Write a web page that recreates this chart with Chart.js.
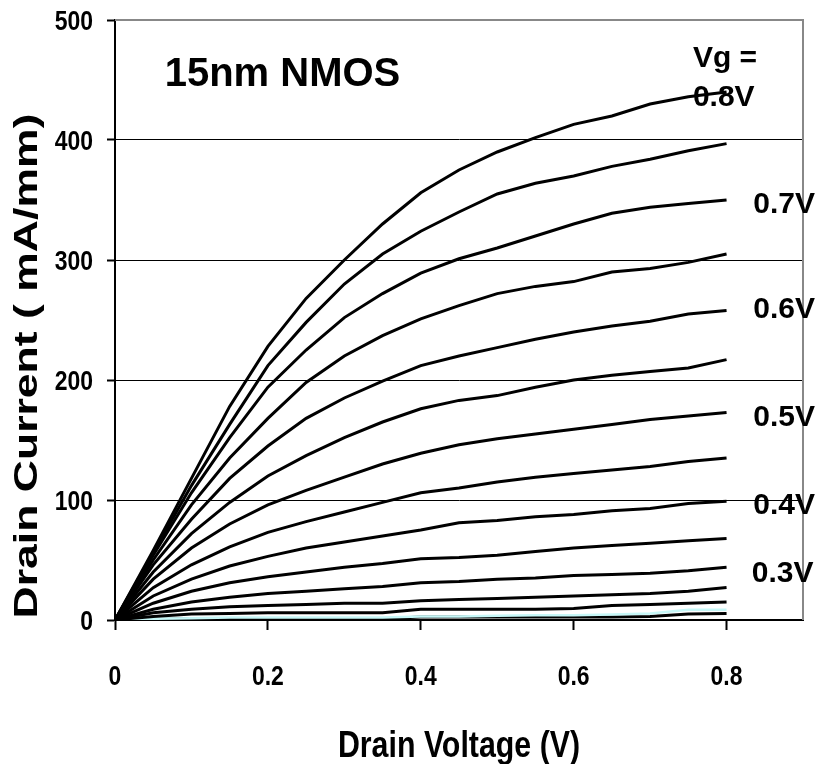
<!DOCTYPE html>
<html><head><meta charset="utf-8">
<script src="https://cdn.jsdelivr.net/npm/chart.js@4/dist/chart.umd.min.js"></script>
<style>html,body{margin:0;padding:0;background:#fff}#wrap{width:821px;height:764px}</style>
</head><body><div id="wrap"><canvas id="c" width="821" height="764"></canvas></div>
<script>
// ---- data ----
const drainVoltage = [0,0.05,0.1,0.15,0.2,0.25,0.3,0.35,0.4,0.45,0.5,0.55,0.6,0.65,0.7,0.75,0.8];
const vg080 = [0, 58, 118, 178, 228, 268, 300, 330, 356, 375, 390, 402, 413, 420, 430, 436, 440];
const vg075 = [0, 56, 112, 163, 212, 248, 280, 305, 324, 340, 355, 364, 370, 378, 384, 391, 397];
const vg070 = [0, 54, 106, 152, 194, 225, 252, 272, 289, 301, 310, 320, 330, 339, 344, 347, 350];
const vg065 = [0, 50, 96, 135, 168, 198, 220, 237, 251, 262, 272, 278, 282, 290, 293, 298, 305];
const vg060 = [0, 46, 84, 118, 145, 168, 185, 199, 212, 220, 227, 234, 240, 245, 249, 255, 258];
const vg055 = [0, 40, 72, 98, 120, 137, 152, 165, 176, 183, 187, 194, 200, 204, 207, 210, 217];
const vg050 = [0, 34, 60, 80, 96, 108, 119, 130, 139, 146, 151, 155, 159, 163, 167, 170, 173];
const vg045 = [0, 27, 46, 61, 73, 82, 90, 98, 106, 110, 115, 119, 122, 125, 128, 132, 135];
const vg040 = [0, 20, 34, 45, 53, 60, 65, 70, 75, 81, 83, 86, 88, 91, 93, 97, 99];
const vg035 = [0, 14, 24, 31, 36, 40, 44, 47, 51, 52, 54, 57, 60, 62, 64, 66, 68];
const vg030 = [0, 9, 15, 19, 22, 24, 26, 28, 31, 32, 34, 35, 37, 38, 39, 41, 44];
const vg025 = [0, 6, 9, 11, 12, 13, 14, 14, 16, 17, 18, 19, 20, 21, 22, 24, 27];
const vg020 = [0, 3, 5, 5.5, 6, 6, 6, 6, 9, 9, 9, 9, 9.5, 12, 13, 14, 15];
const vg015 = [0, 1, 1.5, 2, 2, 2, 2, 2, 3, 3, 3.5, 4, 4, 4.5, 5.5, 8.5, 8.5];
const vg010 = [0, 0.5, 1, 1, 1, 1, 1, 1, 2.5, 2.5, 2.5, 2.5, 2.5, 2.5, 3, 5, 5.5];

const seriesNames = ['Vg 0.80','Vg 0.75','Vg 0.70','Vg 0.65','Vg 0.60','Vg 0.55','Vg 0.50','Vg 0.45','Vg 0.40','Vg 0.35','Vg 0.30','Vg 0.25','Vg 0.20','Vg 0.15','Vg 0.10'];
const seriesValues = [vg080,vg075,vg070,vg065,vg060,vg055,vg050,vg045,vg040,vg035,vg030,vg025,vg020,vg015,vg010];

const xTicks = [0, 0.2, 0.4, 0.6, 0.8];
const xTickLabels = ['0', '0.2', '0.4', '0.6', '0.8'];
const yTicks = [0, 100, 200, 300, 400, 500];
const yTickLabels = ['0', '100', '200', '300', '400', '500'];

const noteTexts = ['15nm NMOS','Vg =','0.8V','0.7V','0.6V','0.5V','0.4V','0.3V'];
const noteX =     [0.065, 0.756, 0.756, 0.835, 0.835, 0.835, 0.835, 0.833];
const noteY =     [445,   460.8, 428.3, 339,   251.7, 161.7, 88.3,  31.7];

const xTitle = 'Drain Voltage (V)';
const yTitle = 'Drain Current ( mA/mm)';

// ---- styles ----
const ARIAL = '"Liberation Sans",Arial,sans-serif';
const NARROW_SCALE = 0.82; // emulates Arial Narrow Bold

const datasets = seriesValues.map((vals, i) => ({
  label: seriesNames[i],
  data: drainVoltage.map((v, k) => ({x: v, y: vals[k]})),
  borderColor: seriesNames[i] === 'Vg 0.15' ? '#c6f7f7' : '#000',
  borderWidth: seriesNames[i] === 'Vg 0.15' ? 2.5 : 3,
  pointRadius: 0,
  tension: 0,
  fill: false
}));

function narrowText(ctx, text, x, y, size, align, sx) {
  ctx.save();
  ctx.translate(x, y);
  ctx.scale(sx, 1);
  ctx.font = 'bold ' + size + 'px ' + ARIAL;
  ctx.textAlign = align;
  ctx.textBaseline = 'alphabetic';
  ctx.fillStyle = '#000';
  ctx.fillText(text, 0, 0);
  ctx.restore();
}

const overlay = {
  id: 'overlay',
  beforeDatasetsDraw(chart) {
    const {ctx, chartArea: a} = chart;
    ctx.save();
    ctx.strokeStyle = '#888';
    ctx.lineWidth = 2;
    ctx.beginPath();
    ctx.moveTo(a.left, a.top);
    ctx.lineTo(a.right, a.top);
    ctx.lineTo(a.right, a.bottom);
    ctx.stroke();
    ctx.restore();
  },
  afterDraw(chart) {
    const {ctx, chartArea: a} = chart;
    const xs = chart.scales.x, ys = chart.scales.y;
    // tick labels
    xs.ticks.forEach((t, i) => {
      narrowText(ctx, xTickLabels[i], xs.getPixelForValue(t.value), a.bottom + 65, 28, 'center', NARROW_SCALE);
    });
    ys.ticks.forEach((t, i) => {
      narrowText(ctx, yTickLabels[i], a.left - 22, ys.getPixelForValue(t.value) + 10, 28, 'right', NARROW_SCALE);
    });
    // axis titles
    narrowText(ctx, xTitle, (a.left + a.right) / 2, a.bottom + 137, 37, 'center', NARROW_SCALE);
    ctx.save();
    ctx.translate(37, 366);
    ctx.rotate(-Math.PI / 2);
    ctx.scale(1.35, 1);
    ctx.font = 'bold 33px ' + ARIAL;
    ctx.textAlign = 'center';
    ctx.textBaseline = 'alphabetic';
    ctx.fillStyle = '#000';
    ctx.fillText(yTitle, 0, 0);
    ctx.restore();
    // annotations
    ctx.save();
    ctx.fillStyle = '#000';
    ctx.textAlign = 'left';
    ctx.textBaseline = 'alphabetic';
    noteTexts.forEach((t, i) => {
      ctx.font = (i === 0 ? 'bold 40px ' : 'bold 30px ') + ARIAL;
      ctx.fillText(t, xs.getPixelForValue(noteX[i]), ys.getPixelForValue(noteY[i]));
    });
    ctx.restore();
  }
};

new Chart(document.getElementById('c'), {
  type: 'line',
  data: {datasets},
  options: {
    responsive: false,
    animation: false,
    events: [],
    layout: {padding: {left: 0, right: 18, top: 20, bottom: 0}},
    plugins: {legend: {display: false}, tooltip: {enabled: false}, title: {display: false}},
    scales: {
      x: {
        type: 'linear', min: 0, max: 0.9,
        afterFit(s) { s.height = 144; },
        afterBuildTicks(s) { s.ticks = xTicks.map(v => ({value: v})); },
        ticks: {display: false},
        grid: {drawOnChartArea: false, drawTicks: true, tickLength: 10, tickWidth: 2, tickColor: '#000'},
        border: {display: true, color: '#000', width: 2},
        title: {display: false}
      },
      y: {
        min: 0, max: 500,
        afterFit(s) { s.width = 115; },
        afterBuildTicks(s) { s.ticks = yTicks.map(v => ({value: v})); },
        ticks: {display: false},
        grid: {
          color: c => (c.tick && c.tick.value === 500 ? 'rgba(0,0,0,0)' : '#000'),
          lineWidth: 1, drawTicks: true, tickLength: 8, tickWidth: 2, tickColor: '#000'
        },
        border: {display: true, color: '#000', width: 2},
        title: {display: false}
      }
    }
  },
  plugins: [overlay]
});
</script></body></html>
